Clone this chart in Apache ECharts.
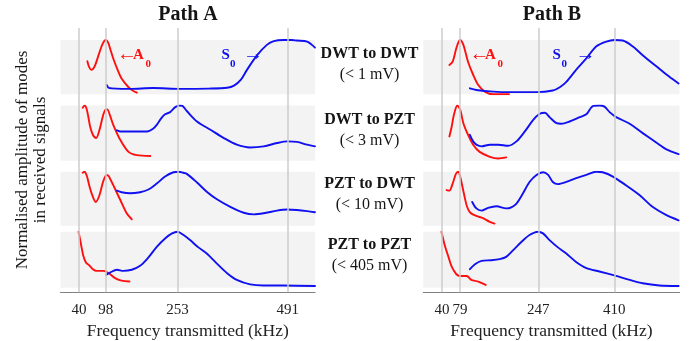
<!DOCTYPE html>
<html><head><meta charset="utf-8">
<script src="https://cdn.jsdelivr.net/npm/echarts@6/dist/echarts.min.js"></script>
<style>html,body{margin:0;padding:0;background:#fff}#c{width:689px;height:341px}</style>
</head><body><div id="c"></div>
<script>
// ---------- tick labels / categories ----------
const panelTitles = ['Path A', 'Path B'];
const xTicksA = [40, 98, 253, 491];
const xTicksB = [40, 79, 247, 410];
const rowLabels = ['DWT to DWT', 'DWT to PZT', 'PZT to DWT', 'PZT to PZT'];
const rowLimits = ['(< 1 mV)', '(< 3 mV)', '(< 10 mV)', '(< 405 mV)'];
const xName = 'Frequency transmitted (kHz)';
const yName = 'Normalised amplitude of modes\nin received signals';

// ---------- Path A : [frequency kHz, normalised amplitude] ----------
const A_r1_A0 = [[58,0.61],[62,0.50],[67,0.45],[74,0.52],[83,0.74],[91,0.93],[98,1.0],[103,0.95],[108,0.82],[114,0.66],[123,0.46],[132,0.29],[147,0.13],[156,0.07],[165,0.03]];
const A_r1_S0 = [[100,0.17],[104,0.12],[110,0.11],[150,0.10],[200,0.115],[260,0.10],[320,0.105],[360,0.12],[375,0.16],[390,0.27],[403,0.45],[425,0.72],[446,0.91],[461,0.98],[482,1.0],[500,1.0],[511,0.99],[533,0.97],[550,0.86]];
const A_r2_A0 = [[48,0.96],[52,1.0],[56,0.95],[60,0.80],[64,0.62],[70,0.47],[77,0.41],[84,0.55],[92,0.82],[98,0.93],[101,0.93],[107,0.82],[114,0.65],[129,0.38],[147,0.16],[165,0.10],[194,0.085]];
const A_r2_S0 = [[122,0.55],[130,0.53],[158,0.53],[187,0.53],[200,0.58],[208,0.65],[218,0.77],[226,0.84],[237,0.88],[248,0.97],[258,1.0],[264,0.99],[273,0.90],[295,0.71],[324,0.56],[353,0.41],[381,0.29],[410,0.24],[439,0.26],[468,0.32],[490,0.35],[511,0.34],[533,0.29],[550,0.26]];
const A_r3_A0 = [[48,0.98],[52,1.0],[57,0.92],[62,0.75],[68,0.58],[76,0.44],[84,0.56],[93,0.84],[100,0.94],[104,0.92],[114,0.75],[129,0.48],[143,0.23],[154,0.12]];
const A_r3_S0 = [[122,0.65],[132,0.62],[150,0.60],[172,0.62],[190,0.67],[208,0.78],[226,0.91],[244,0.99],[256,1.0],[265,0.98],[273,0.96],[295,0.80],[316,0.63],[338,0.49],[367,0.35],[396,0.24],[418,0.21],[439,0.23],[468,0.28],[490,0.30],[511,0.29],[533,0.27],[550,0.25]];
const A_r4_A0 = [[39,1.0],[44,0.79],[49,0.58],[55,0.45],[62,0.40],[70,0.33],[78,0.30],[93,0.30],[104,0.26],[118,0.17],[132,0.125],[149,0.11]];
const A_r4_S0 = [[99,0.23],[107,0.27],[122,0.32],[136,0.30],[154,0.32],[172,0.39],[190,0.54],[208,0.73],[226,0.88],[241,0.97],[253,1.0],[266,0.94],[280,0.85],[298,0.72],[316,0.61],[338,0.43],[360,0.26],[381,0.14],[410,0.06],[439,0.04],[482,0.04],[550,0.03]];

// ---------- Path B ----------
const B_r1_A0 = [[56,0.54],[63,0.60],[70,0.82],[75,0.95],[79,1.0],[86,0.91],[96,0.60],[107,0.36],[118,0.17],[132,0.05],[150,0.0],[184,0.0]];
const B_r1_S0 = [[100,0.11],[114,0.08],[150,0.05],[186,0.04],[243,0.04],[278,0.07],[293,0.13],[307,0.23],[328,0.45],[350,0.66],[371,0.88],[393,0.97],[410,1.0],[428,0.99],[450,0.88],[471,0.72],[492,0.57],[514,0.42],[535,0.28],[548,0.20]];
const B_r2_A0 = [[56,0.44],[61,0.62],[66,0.84],[73,1.0],[79,0.93],[86,0.68],[96,0.47],[107,0.29],[121,0.16],[143,0.07],[161,0.04],[178,0.06]];
const B_r2_S0 = [[100,0.47],[107,0.35],[114,0.29],[125,0.26],[143,0.29],[161,0.29],[182,0.27],[200,0.35],[218,0.53],[236,0.74],[250,0.85],[261,0.87],[271,0.79],[286,0.68],[296,0.67],[314,0.71],[336,0.79],[350,0.84],[364,0.99],[378,1.0],[389,0.98],[400,0.88],[414,0.79],[443,0.67],[471,0.50],[500,0.33],[521,0.21],[548,0.12]];
const B_r3_A0 = [[50,0.66],[56,0.65],[63,0.78],[70,0.96],[75,1.0],[80,0.88],[87,0.60],[94,0.35],[101,0.24],[114,0.18],[128,0.14],[143,0.07],[153,0.04]];
const B_r3_S0 = [[105,0.44],[114,0.32],[125,0.28],[139,0.33],[157,0.36],[178,0.32],[189,0.34],[200,0.41],[214,0.60],[228,0.81],[243,0.94],[257,0.99],[268,0.94],[278,0.81],[289,0.77],[307,0.81],[328,0.88],[350,0.94],[371,1.0],[385,0.99],[407,0.91],[435,0.75],[464,0.57],[492,0.35],[521,0.20],[548,0.10]];
const B_r4_A0 = [[39,1.0],[46,0.76],[54,0.55],[61,0.375],[71,0.24],[79,0.21],[93,0.21],[103,0.14],[118,0.11],[134,0.05]];
const B_r4_S0 = [[100,0.33],[111,0.42],[125,0.48],[146,0.49],[164,0.51],[178,0.55],[193,0.67],[211,0.82],[228,0.94],[246,1.0],[257,0.97],[271,0.85],[289,0.72],[307,0.61],[328,0.46],[350,0.35],[378,0.29],[414,0.21],[443,0.14],[471,0.08],[507,0.04],[548,0.03]];

// ---------- layout ----------
const FONT = 'Liberation Serif';
const RED = '#ff1010', BLUE = '#1010f0';
const rowTops = [40, 105.5, 171.7, 231.7];
const rowBottoms = [94.3, 160.7, 225.7, 287.7];
const panels = [
  {left: 60.5, width: 254.5, ticks: xTicksA, title: panelTitles[0], cx: 188,
   a0: [A_r1_A0, A_r2_A0, A_r3_A0, A_r4_A0], s0: [A_r1_S0, A_r2_S0, A_r3_S0, A_r4_S0]},
  {left: 423.3, width: 256.2, ticks: xTicksB, title: panelTitles[1], cx: 552,
   a0: [B_r1_A0, B_r2_A0, B_r3_A0, B_r4_A0], s0: [B_r1_S0, B_r2_S0, B_r3_S0, B_r4_S0]}
];

const grid = [], xAxis = [], yAxis = [], series = [];
panels.forEach(p => {
  const fi = grid.length;
  grid.push({left: p.left, width: p.width, top: 28, height: 264.3, containLabel: false, outerBoundsMode: 'none'});
  xAxis.push({gridIndex: fi, type: 'value', min: 0, max: 550,
    axisLine: {show: true, onZero: false, lineStyle: {color: '#808080', width: 1.2}},
    axisTick: {show: false}, splitLine: {show: false},
    axisLabel: {customValues: p.ticks, fontSize: 15, color: '#222', margin: 10, fontFamily: FONT},
    name: xName, nameLocation: 'middle', nameGap: 30,
    nameTextStyle: {fontSize: 17.5, color: '#222', fontFamily: FONT}});
  yAxis.push({gridIndex: fi, type: 'value', min: 0, max: 1, show: false});
  series.push({type: 'line', xAxisIndex: fi, yAxisIndex: fi, data: [], silent: true, z: 1,
    markLine: {silent: true, symbol: ['none', 'none'], label: {show: false}, animation: false,
      lineStyle: {color: '#cdcdcd', width: 1.5, type: 'solid'},
      data: p.ticks.map(v => ({xAxis: v}))}});
  for (let r = 0; r < 4; r++) {
    const gi = grid.length;
    grid.push({left: p.left, width: p.width, top: rowTops[r], height: rowBottoms[r] - rowTops[r],
      show: true, backgroundColor: '#f3f3f3', borderWidth: 0, z: 0, outerBoundsMode: 'none'});
    xAxis.push({gridIndex: gi, type: 'value', min: 0, max: 550, show: false});
    yAxis.push({gridIndex: gi, type: 'value', min: 0, max: 1, show: false});
    [[p.a0[r], RED], [p.s0[r], BLUE]].forEach(([d, c]) => {
      series.push({type: 'line', xAxisIndex: gi, yAxisIndex: gi, data: d, smooth: 0.3,
        symbol: 'none', showSymbol: false, z: 3, clip: true,
        lineStyle: {color: c, width: 1.9, join: 'round', cap: 'round'}});
    });
  }
});

const graphic = [];
const txt = (x, y, text, size, opts) => Object.assign({type: 'text', x, y, silent: true, z: 10,
  style: Object.assign({text, fontSize: size, fontFamily: FONT, fill: '#151515',
    align: 'center', verticalAlign: 'middle'}, (opts && opts.style) || {})}, (opts && opts.el) || {});
panels.forEach(p => graphic.push(txt(p.cx, 15, p.title, 20, {style: {fontWeight: 'bold'}})));
const labY = [[53.5, 75], [119.5, 140.5], [184, 204.5], [245, 265.5]];
rowLabels.forEach((l, i) => {
  graphic.push(txt(369.5, labY[i][0], l, 16, {style: {fontWeight: 'bold'}}));
  graphic.push(txt(369.5, labY[i][1], rowLimits[i], 16));
});
graphic.push(txt(32, 160, yName, 17, {el: {rotation: Math.PI / 2}, style: {lineHeight: 18}}));
// mode annotations
const ann = [
  // Path A
  ['←', 117, 54.5, RED, 20, 'normal', 'left'], ['A', 133, 55, RED, 15, 'bold', 'left'], ['0', 145.5, 64.5, RED, 11, 'bold', 'left'],
  ['S', 221.5, 55, BLUE, 15, 'bold', 'left'], ['0', 230, 64.5, BLUE, 11, 'bold', 'left'], ['→', 243, 54.5, BLUE, 20, 'normal', 'left'],
  // Path B
  ['←', 469.5, 54.5, RED, 20, 'normal', 'left'], ['A', 485, 55, RED, 15, 'bold', 'left'], ['0', 497.5, 64.5, RED, 11, 'bold', 'left'],
  ['S', 552.5, 55, BLUE, 15, 'bold', 'left'], ['0', 561.5, 64.5, BLUE, 11, 'bold', 'left'], ['→', 575.5, 54.5, BLUE, 20, 'normal', 'left']
];
ann.forEach(([t, x, y, c, s, w, a]) => graphic.push(txt(x, y, t, s, {style: {fill: c, fontWeight: w, align: a}})));

const chart = echarts.init(document.getElementById('c'), null, {renderer: 'canvas'});
chart.setOption({animation: false, backgroundColor: '#fff',
  textStyle: {fontFamily: FONT}, grid, xAxis, yAxis, series, graphic});
</script></body></html>
